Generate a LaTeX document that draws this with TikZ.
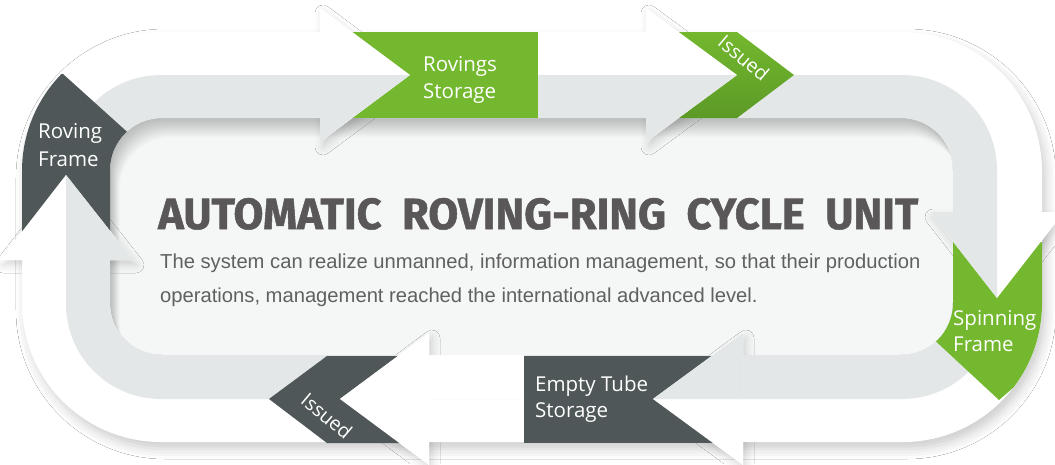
\documentclass[tikz,border=0pt]{standalone}
\usepackage{fontspec}
\usetikzlibrary{shadows.blur}
\newfontfamily\labelfont{Open Sans}
\newfontfamily\titlefont{Fira Sans}[WordSpace=2.0,BoldFeatures={FakeBold=1.2}]
\newfontfamily\bodyfont{Liberation Sans}
\definecolor{lane}{HTML}{E4E7E8}
\definecolor{panel}{HTML}{F5F6F6}
\definecolor{leaf}{HTML}{73B82E}
\definecolor{leafdark}{HTML}{5C9A26}
\definecolor{slate}{HTML}{4F5758}
\definecolor{ink}{HTML}{5A5758}
\definecolor{body}{HTML}{606060}
\tikzset{
  lbl/.style={anchor=base west,inner sep=0pt,text=white,font=\labelfont\fontsize{20.5}{24}\selectfont},
  tag/.style={inner sep=0pt,text=white,rotate=-40,font=\labelfont\fontsize{19.5}{20}\selectfont},
  soft/.style={blur shadow={shadow xshift=3pt,shadow yshift=-5pt,shadow blur radius=8pt,shadow opacity=16}},
  bodytxt/.style={anchor=base west,inner sep=0pt,text=body,font=\bodyfont\fontsize{20.2}{24}\selectfont}
}
\def\outerloop{{[rounded corners=139pt] (22,32) rectangle (1042,442)}}
\def\midloop{{[rounded corners=95pt] (66,75) rectangle (997,399)}}
\def\panelloop{{[rounded corners=52pt] (110,118) rectangle (953,355)}}
\newcommand\arrowhd[5]{%
  \fill[white] (#1) -- (#2) -- (#4) -- cycle;
  \fill[#5] (#1) -- (#3) -- (#4) -- cycle;}
\begin{document}
\begin{tikzpicture}[x=1pt,y=-1pt]
  \useasboundingbox (0,0) rectangle (1055,464);
  \fill[white] (0,0) rectangle (1055,464);
  \path (66,175) coordinate (t1) (0,260) coordinate (o1) (66,260) coordinate (m1) (133,260) coordinate (n1)
        (410,75) coordinate (t2) (320,8) coordinate (o2) (320,75) coordinate (m2) (320,142) coordinate (n2)
        (737,75) coordinate (t3) (646,8) coordinate (o3) (646,75) coordinate (m3) (646,142) coordinate (n3)
        (997,298) coordinate (t4) (1064,212) coordinate (o4) (997,212) coordinate (m4) (930,212) coordinate (n4)
        (653,399) coordinate (t5) (743,465) coordinate (o5) (743,399) coordinate (m5) (743,333) coordinate (n5)
        (340,399) coordinate (t6) (429,465) coordinate (o6) (429,399) coordinate (m6) (429,333) coordinate (n6);
  \fill[white,blur shadow={shadow xshift=4pt,shadow yshift=-7pt,shadow blur radius=10pt,shadow opacity=20}] \outerloop;
  \fill[panel] \panelloop;
  \begin{scope}
    \clip \panelloop;
    \foreach \s in {1,...,12}
      \fill[black,opacity=.018,even odd rule] \panelloop [rounded corners=52pt] ({110+.8*\s},{118+1.6*\s}) rectangle ({953+.8*\s},{355+1.6*\s});
  \end{scope}
  \fill[lane,even odd rule] \midloop \panelloop;
  \fill[white] (405,355) rectangle (524,399);
  \begin{scope}[even odd rule]
    \clip (-20,-20) rectangle (1075,484) \outerloop \panelloop;
    \foreach \i in {1,...,6}
      \fill[white,soft] (t\i) -- (o\i) -- (n\i) -- cycle;
  \end{scope}
  \begin{scope}[even odd rule]
    \clip \outerloop \panelloop;
    \fill[slate] (63,74) -- (145,148) -- (145,255) -- (-10,255) -- (-10,74) -- cycle;
    \fill[leaf] (915,242) -- (1080,242) -- (1080,330) -- (999,400) -- (915,322) -- cycle;
  \end{scope}
  \fill[leaf] (352,32) rectangle (538,118);
  \shade[top color=leaf,bottom color=leafdark] (670,32) -- (737,32) -- (794,75) -- (737,118) -- (670,118) -- cycle;
  \fill[slate] (524,356) rectangle (720,443);
  \fill[slate] (269,399) -- (327,356) -- (405,356) -- (405,443) -- (327,443) -- cycle;
  \foreach \i/\c in {1/lane,2/lane,3/lane,4/lane,5/lane,6/white}
    \arrowhd{t\i}{o\i}{m\i}{n\i}{\c};
  \node[lbl] (rf1) at (38,138) {Roving};
  \node[lbl] (rf2) at (38,166) {Frame};
  \node[lbl] (rs1) at (423,71) {Rovings};
  \node[lbl] (rs2) at (423,98) {Storage};
  \node[lbl] (sf1) at (953,325) {Spinning};
  \node[lbl] (sf2) at (953,351) {Frame};
  \node[lbl] (et1) at (535,391) {Empty Tube};
  \node[lbl] (et2) at (535,417) {Storage};
  \node[tag] (is1) at (744,58) {Issued};
  \node[tag] (is2) at (327,416) {Issued};
  \node[anchor=base west,inner sep=0pt,text=ink] (title) at (158,229)
    {\resizebox{760pt}{31pt}{\titlefont\bfseries AUTOMATIC ROVING-RING CYCLE UNIT}};
  \node[bodytxt] (txt1) at (160,268) {The system can realize unmanned, information management, so that their production};
  \node[bodytxt] (txt2) at (160,302) {operations, management reached the international advanced level.};
\end{tikzpicture}
\end{document}
